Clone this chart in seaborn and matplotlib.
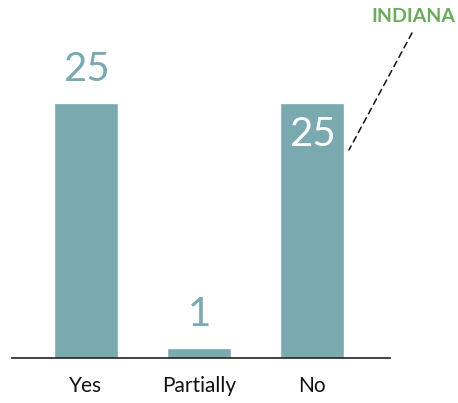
import matplotlib
matplotlib.use("Agg")
import matplotlib.pyplot as plt
import seaborn as sns
import pandas as pd

categories = ["Yes", "Partially", "No"]
values = [25, 1, 25]
highlight_label = "INDIANA"

sns.set_style("white")
plt.rcParams['font.family'] = ['Lato', 'DejaVu Sans']

bar_color = "#7aa9af"
df = pd.DataFrame({"cat": categories, "val": values})

fig = plt.figure(figsize=(4.58, 4.03), dpi=100)
ax = fig.add_axes([12/458, 45/403, 378/458, 358/403])
sns.barplot(data=df, x="cat", y="val", color=bar_color, width=0.566,
            saturation=1, ax=ax)

ax.set_xlim(-0.655, 2.69)
ax.set_ylim(0, 35.1)
ax.set_xlabel("")
ax.set_ylabel("")
ax.set_yticks([])
for s in ["top", "right", "left"]:
    ax.spines[s].set_visible(False)
ax.spines["bottom"].set_color("#222222")
ax.spines["bottom"].set_linewidth(1.2)
ax.tick_params(axis="x", length=0, pad=13, labelsize=15, labelcolor="#111111")

for i, v in enumerate(values):
    if i == 2:
        ax.text(i, v - 1.3, str(v), ha="center", va="top", fontsize=29,
                color="white")
    else:
        ax.text(i, v + 1.5, str(v), ha="center", va="bottom", fontsize=29,
                color=bar_color)

ax.annotate("", xy=(2.327, 20.4), xycoords="data",
            xytext=(412/458, 1 - 33/403), textcoords="figure fraction",
            arrowprops=dict(arrowstyle="-", linestyle=(0, (4, 3)),
                        color="#111111", lw=1.1, shrinkA=0, shrinkB=0),
            annotation_clip=False)
fig.text(413/458, 1 - 16/403, highlight_label, ha="center", va="center",
         fontsize=14, fontweight="bold", color="#6aab5c")

fig.savefig("out.png", dpi=100)
